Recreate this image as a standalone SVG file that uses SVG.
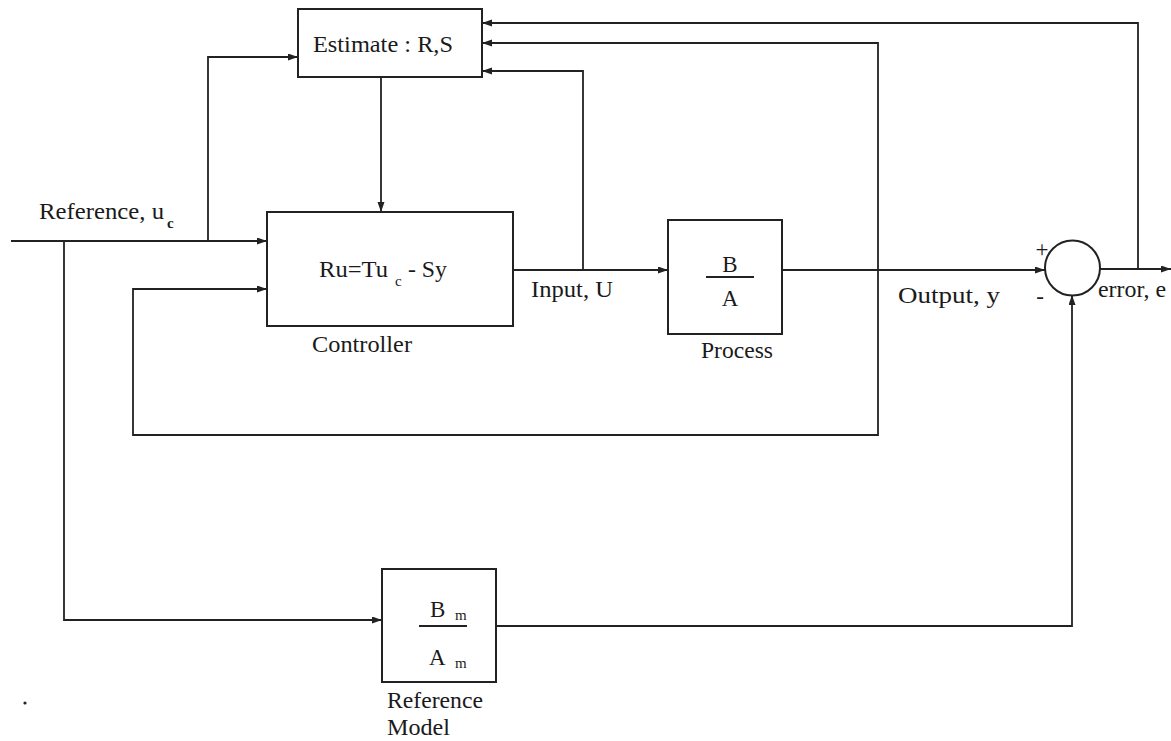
<svg xmlns="http://www.w3.org/2000/svg" width="1171" height="741" viewBox="0 0 1171 741">
<style>
.box{fill:none;stroke:#222;stroke-width:2}
.ln{fill:none;stroke:#222;stroke-width:1.8}
.arr{marker-end:url(#ah)}
text{font-family:"Times New Roman","Liberation Serif","DejaVu Serif",serif;fill:#1a1a1a;font-size:23px}
.sub{font-size:15px}
</style>
<defs>
<marker id="ah" markerUnits="userSpaceOnUse" markerWidth="11" markerHeight="8" refX="10" refY="3.5" orient="auto">
<path d="M0,0 L10,3.5 L0,7 z" fill="#222"/>
</marker>
</defs>
<rect width="1171" height="741" fill="#fff"/>
<g id="connectors">
<path class="ln arr" d="M11,241 H267"/>
<path class="ln arr" d="M208,241 V57 H298"/>
<path class="ln arr" d="M64,241 V620 H382"/>
<path class="ln arr" d="M381,77 V212"/>
<path class="ln arr" d="M513,270 H668"/>
<path class="ln arr" d="M583,270 V71 H482"/>
<path class="ln arr" d="M782,270 H1045"/>
<path class="ln arr" d="M878,270 V435 H133 V289 H267"/>
<path class="ln arr" d="M878,270 V43 H482"/>
<path class="ln arr" d="M1100,269 H1171"/>
<path class="ln arr" d="M1138,269 V23 H482"/>
<path class="ln arr" d="M496,626 H1072 V295"/>
</g>
<g id="estimator">
<rect class="box" x="298" y="9" width="184" height="68"/>
<text x="313" y="52" textLength="140" lengthAdjust="spacingAndGlyphs">Estimate : R,S</text>
</g>
<g id="controller">
<rect class="box" x="267" y="212" width="246" height="114"/>
<text x="319" y="277" textLength="69" lengthAdjust="spacingAndGlyphs">Ru=Tu</text>
<text class="sub" x="395" y="286">c</text>
<text x="408" y="277" textLength="39" lengthAdjust="spacingAndGlyphs">- Sy</text>
<text x="312" y="352" textLength="100" lengthAdjust="spacingAndGlyphs">Controller</text>
</g>
<g id="process">
<rect class="box" x="668" y="220" width="114" height="114"/>
<text x="730" y="272" text-anchor="middle">B</text>
<line class="ln" x1="706" y1="277" x2="754" y2="277"/>
<text x="730" y="306" text-anchor="middle">A</text>
<text x="701" y="358" textLength="72" lengthAdjust="spacingAndGlyphs">Process</text>
</g>
<g id="reference-model">
<rect class="box" x="382" y="569" width="114" height="113"/>
<text x="430" y="617">B</text>
<text class="sub" x="455" y="620">m</text>
<line class="ln" x1="419" y1="626" x2="467" y2="626"/>
<text x="429" y="665">A</text>
<text class="sub" x="455" y="668">m</text>
<text x="387" y="708" textLength="96" lengthAdjust="spacingAndGlyphs">Reference</text>
<text x="387" y="735" textLength="63" lengthAdjust="spacingAndGlyphs">Model</text>
</g>
<g id="summing-junction">
<circle class="box" cx="1072.5" cy="268" r="27.5"/>
<text x="1042" y="257" text-anchor="middle" font-size="20">+</text>
<text x="1040" y="304" text-anchor="middle" font-size="18">-</text>
</g>
<g id="labels">
<text x="39" y="219" textLength="125" lengthAdjust="spacingAndGlyphs">Reference, u</text>
<text class="sub" x="167" y="228" font-weight="bold">c</text>
<text x="531" y="297" textLength="82" lengthAdjust="spacingAndGlyphs">Input, U</text>
<text x="898" y="303" textLength="102" lengthAdjust="spacingAndGlyphs">Output,  y</text>
<text x="1098" y="297" textLength="68" lengthAdjust="spacingAndGlyphs">error, e</text>
<circle cx="25" cy="703" r="1.6" fill="#222"/>
</g>
</svg>
